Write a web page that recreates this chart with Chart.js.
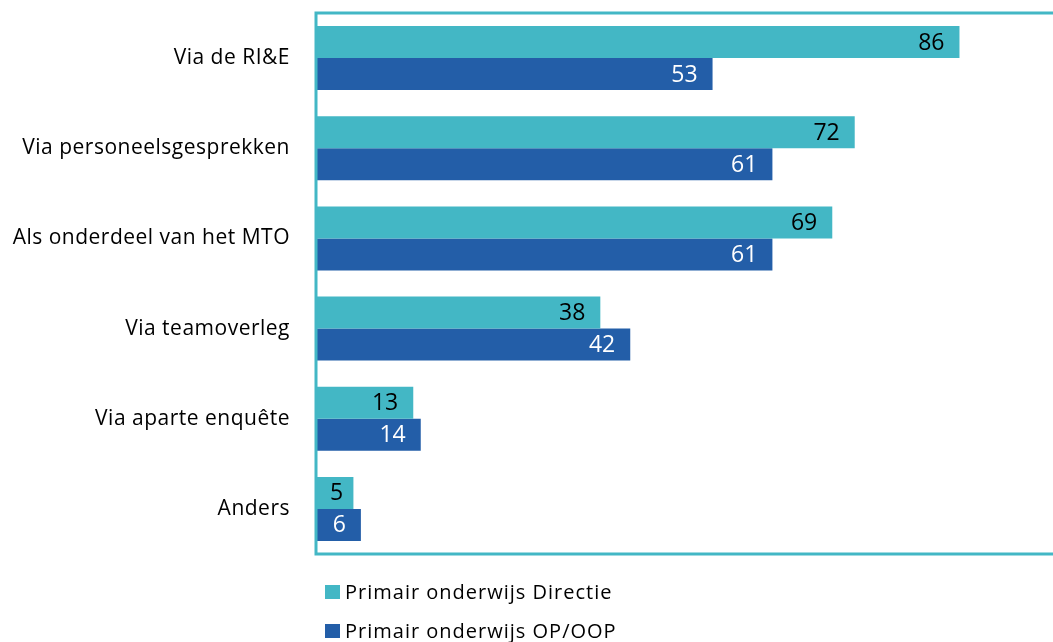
<!doctype html>
<html lang="nl">
<head>
  <meta charset="utf-8">
  <title>Primair onderwijs</title>
  <style>
    body { margin: 0; background: #fff; font-family: "Open Sans", "Noto Sans", sans-serif; }
    #wrap { position: relative; width: 1053px; height: 642px; overflow: hidden; }
    #legend { position: absolute; left: 325px; top: 578px; font-size: 20px; letter-spacing: 1px; color: #000; }
    #legend div { height: 39px; line-height: 28px; white-space: nowrap; }
    #legend span.box { display: inline-block; width: 15px; height: 14px; margin-right: 5px; vertical-align: 0px; }
  </style>
</head>
<body>
  <div id="wrap">
    <canvas id="chart" width="1053" height="642"></canvas>
    <div id="legend"></div>
  </div>

  <script src="https://cdn.jsdelivr.net/npm/chart.js"></script>
  <script>
    const categories = ['Via de RI&E', 'Via personeelsgesprekken', 'Als onderdeel van het MTO', 'Via teamoverleg', 'Via aparte enquête', 'Anders'];
    const directie = [86, 72, 69, 38, 13, 5];
    const opOop = [53, 61, 61, 42, 14, 6];
    const seriesNames = ['Primair onderwijs Directie', 'Primair onderwijs OP/OOP'];

    const teal = '#43B7C5';
    const blue = '#235EA8';

    // slightly wider lettering, like the original
    const spacing = {
      id: 'spacing',
      beforeDraw(chart) {
        chart.ctx.letterSpacing = '0.5px';
      }
    };

    // labels at the inside end of every bar
    const barLabels = {
      id: 'barLabels',
      afterDatasetsDraw(chart) {
        const ctx = chart.ctx;
        ctx.save();
        ctx.font = '23px "Open Sans"';
        ctx.letterSpacing = '0px';
        ctx.textAlign = 'right';
        ctx.textBaseline = 'middle';
        chart.data.datasets.forEach((ds, i) => {
          chart.getDatasetMeta(i).data.forEach((bar, j) => {
            const txt = String(ds.data[j]);
            const w = ctx.measureText(txt).width;
            const x = Math.max(bar.x - 15, bar.base + 14 + w);
            ctx.fillStyle = i == 0 ? '#000' : '#fff';
            ctx.fillText(txt, x, bar.y + 1);
          });
        });
        ctx.restore();
      }
    };

    // teal frame: top, left, bottom
    const frame = {
      id: 'frame',
      afterDraw(chart) {
        const a = chart.chartArea;
        const ctx = chart.ctx;
        ctx.save();
        ctx.strokeStyle = teal;
        ctx.lineWidth = 3;
        ctx.beginPath();
        ctx.moveTo(1053, a.top);
        ctx.lineTo(a.left, a.top);
        ctx.lineTo(a.left, a.bottom);
        ctx.lineTo(1053, a.bottom);
        ctx.stroke();
        ctx.restore();
      }
    };

    const chart = new Chart(document.getElementById('chart'), {
      type: 'bar',
      data: {
        labels: categories,
        datasets: [
          { label: seriesNames[0], data: directie, backgroundColor: teal },
          { label: seriesNames[1], data: opOop, backgroundColor: blue }
        ]
      },
      options: {
        indexAxis: 'y',
        responsive: false,
        animation: false,
        layout: { padding: { top: 13, bottom: 88, left: 0, right: 0 } },
        datasets: { bar: { categoryPercentage: 0.71, barPercentage: 1 } },
        scales: {
          x: { display: false, min: 0, max: 98.5 },
          y: {
            grid: { display: false },
            border: { display: false },
            ticks: { color: '#000', font: { family: 'Open Sans', size: 21 }, padding: 18 },
            afterFit(scale) {
              scale.width = 316;
              scale.paddingTop = 0;
              scale.paddingBottom = 0;
            }
          }
        },
        plugins: { legend: { display: false }, tooltip: { enabled: false } }
      },
      plugins: [spacing, barLabels, frame]
    });

    let html = '';
    chart.data.datasets.forEach(ds => {
      html += '<div><span class="box" style="background:' + ds.backgroundColor + '"></span>' + ds.label + '</div>';
    });
    document.getElementById('legend').innerHTML = html;
  </script>
</body>
</html>
